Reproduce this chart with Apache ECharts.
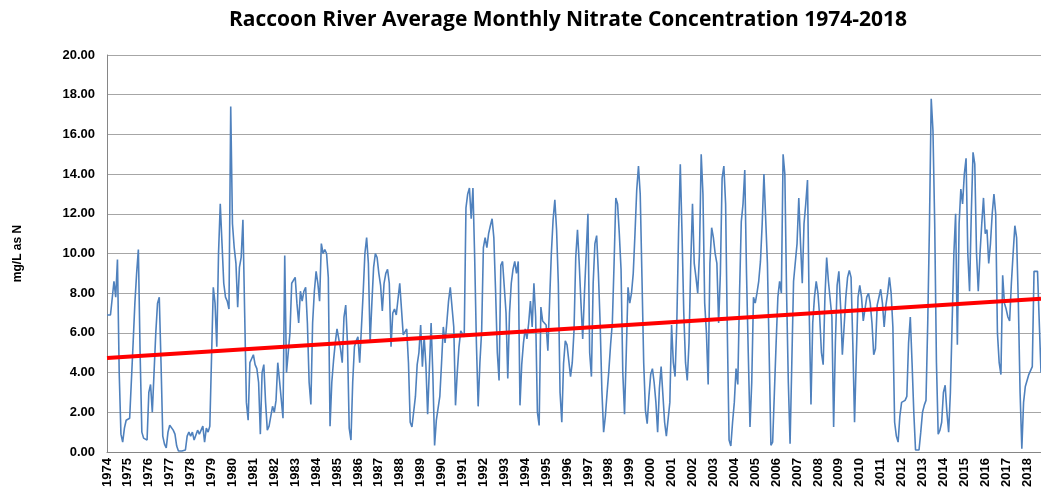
<!DOCTYPE html>
<html>
<head>
<meta charset="utf-8">
<script src="https://cdn.jsdelivr.net/npm/echarts@6/dist/echarts.min.js"></script>
<style>
  html, body { margin: 0; padding: 0; background: #fff; }
  #main { width: 1041px; height: 503px; }
</style>
</head>
<body>
<div id="main"></div>
<script>
// monthly data, Jan 1974 onwards (mg/L as N)
const startYear = 1974
const nitrate = [
  6.9, 6.9, 6.9, 6.9, 8.6, 7.8, 9.7, 4.0, 0.9, 0.5, 1.2, 1.6,      // 1974
  1.7, 1.7, 1.7, 5.5, 7.5, 9.0, 10.2, 5.0, 1.0, 0.7, 0.6, 0.6,     // 1975
  3.0, 3.4, 2.0, 4.0, 6.0, 7.5, 7.8, 4.5, 0.8, 0.4, 0.2, 1.0,      // 1976
  1.35, 1.3, 1.1, 0.9, 0.3, 0.05, 0.05, 0.05, 0.1, 0.1, 0.8, 1.0,  // 1977
  0.8, 1.0, 0.6, 0.5, 1.1, 0.9, 0.8, 1.3, 0.5, 1.2, 1.0, 1.3,      // 1978
  1.3, 8.3, 7.5, 5.3, 10.0, 12.5, 10.5, 8.5, 7.8, 7.6, 7.2, 17.4,  // 1979
  11.5, 10.3, 9.5, 7.3, 9.3, 9.8, 11.7, 7.0, 2.5, 1.6, 4.5, 4.7,   // 1980
  4.9, 4.4, 4.2, 3.5, 0.9, 4.0, 4.4, 2.5, 1.1, 1.3, 1.4, 2.3,      // 1981
  2.0, 2.6, 4.5, 3.6, 3.6, 1.7, 9.9, 4.0, 3.9, 6.0, 8.5, 8.6,      // 1982
  8.8, 7.5, 6.5, 8.1, 7.6, 8.1, 8.3, 6.5, 3.5, 2.4, 6.5, 8.1,      // 1983
  9.1, 8.5, 7.6, 10.5, 10.0, 10.2, 10.0, 8.8, 1.3, 3.5, 4.6, 5.5,  // 1984
  6.2, 6.1, 5.2, 4.5, 6.8, 7.4, 5.5, 1.2, 0.6, 3.5, 5.3, 5.6,      // 1985
  5.8, 4.5, 4.45, 8.0, 10.0, 10.8, 9.5, 5.5, 7.5, 9.3, 10.0, 9.8,  // 1986
  9.0, 8.4, 7.1, 8.5, 9.0, 9.2, 8.5, 5.3, 7.0, 7.2, 6.9, 7.0,      // 1987
  8.5, 7.2, 5.9, 6.0, 6.2, 4.5, 1.5, 1.26, 1.2, 2.8, 4.4, 5.0,     // 1988
  6.4, 4.3, 5.8, 4.4, 1.9, 2.0, 6.5, 3.9, 0.33, 1.6, 1.5, 2.8,     // 1989
  4.5, 6.3, 5.5, 6.5, 7.6, 8.3, 8.4, 6.3, 2.35, 4.0, 5.3, 6.1,     // 1990
  6.2, 5.8, 12.3, 13.0, 13.3, 11.75, 13.3, 9.8, 5.45, 2.3, 4.5, 6.1, // 1991
  10.3, 10.8, 10.3, 11.0, 11.4, 11.75, 10.8, 8.1, 5.0, 3.6, 9.4, 9.6, // 1992
  9.5, 7.0, 3.7, 7.0, 8.5, 9.2, 9.6, 9.0, 9.6, 2.35, 4.4, 5.5,     // 1993
  6.2, 5.7, 6.5, 7.6, 6.3, 8.5, 6.8, 2.0, 1.34, 7.3, 6.6, 6.6,     // 1994
  6.4, 5.1, 7.6, 10.0, 11.7, 12.7, 11.2, 8.5, 3.0, 1.5, 4.45, 5.6, // 1995
  5.4, 4.6, 3.8, 4.5, 6.1, 9.8, 11.2, 9.5, 7.5, 5.7, 8.0, 10.0,    // 1996
  12.0, 5.0, 3.8, 8.5, 10.5, 10.9, 9.0, 6.5, 3.1, 1.0, 1.8, 3.0,   // 1997
  4.1, 5.4, 6.5, 9.5, 12.8, 12.5, 11.0, 9.2, 4.0, 1.9, 5.0, 8.3,   // 1998
  7.5, 8.0, 9.0, 11.0, 13.2, 14.4, 13.0, 8.8, 4.5, 2.1, 1.43, 2.8, // 1999
  3.9, 4.2, 3.5, 2.5, 1.0, 3.2, 4.3, 4.4, 1.5, 0.8, 0.9, 2.5,      // 2000
  6.4, 4.5, 3.8, 6.5, 11.0, 14.5, 11.0, 7.0, 4.5, 3.6, 5.5, 9.5,   // 2001
  12.5, 9.5, 8.8, 8.0, 10.0, 15.0, 13.0, 7.5, 6.0, 3.4, 9.5, 11.3, // 2002
  10.8, 10.0, 9.5, 6.5, 9.0, 13.8, 14.4, 12.5, 6.0, 0.6, 0.3, 1.5, // 2003
  2.5, 4.2, 3.4, 8.0, 11.6, 12.5, 14.2, 9.0, 5.0, 1.26, 3.5, 7.8,  // 2004
  7.5, 8.0, 8.6, 9.6, 11.5, 14.0, 14.0, 9.5, 5.0, 0.34, 0.5, 3.0,  // 2005
  5.5, 7.8, 8.6, 8.0, 15.0, 14.0, 8.0, 3.5, 0.42, 4.5, 8.6, 8.7,   // 2006
  10.5, 12.8, 10.5, 8.5, 11.5, 12.5, 13.7, 7.0, 2.4, 6.5, 7.8, 8.6, // 2007
  8.0, 6.8, 5.0, 4.4, 7.8, 9.8, 8.6, 8.6, 6.8, 1.26, 5.5, 8.4,     // 2008
  9.1, 7.3, 4.9, 6.3, 7.8, 8.8, 9.15, 8.8, 5.5, 1.5, 4.8, 7.8,     // 2009
  8.4, 7.8, 6.6, 6.6, 7.8, 8.0, 7.5, 6.5, 4.9, 5.2, 7.4, 7.5,      // 2010
  8.2, 7.5, 6.3, 7.4, 8.0, 8.8, 8.0, 6.3, 1.5, 0.8, 0.5, 1.8,      // 2011
  2.5, 2.6, 2.6, 2.8, 5.5, 6.8, 4.5, 2.0, 0.1, 0.05, 0.1, 1.0,     // 2012
  2.0, 2.35, 2.6, 6.5, 11.5, 17.8, 16.2, 11.5, 4.5, 0.9, 1.1, 1.5, // 2013
  3.0, 3.36, 2.0, 1.0, 3.0, 6.5, 10.0, 12.0, 5.4, 11.5, 13.25, 12.5, // 2014
  14.0, 14.8, 10.0, 8.1, 12.0, 15.1, 14.5, 10.0, 8.1, 10.0, 11.5, 12.8, // 2015
  11.0, 11.2, 9.5, 10.5, 12.0, 13.0, 12.0, 6.0, 4.5, 3.9, 8.9, 7.5, // 2016
  7.2, 6.8, 6.6, 8.5, 10.0, 11.4, 10.8, 7.5, 3.0, 0.17, 2.5, 3.3,  // 2017
  3.4, 3.9, 3.9, 4.3, 9.1, 9.2, 9.1, 9.0, 4.0                      // 2018
]
// linear trend, start and end value
const trend = [4.73, 7.72]
const yTicks = { min: 0, max: 20, interval: 2 }

const months = nitrate.map((v, i) => {
  let y = startYear + Math.floor(i / 12)
  let m = (i % 12) + 1
  return y + '-' + (m < 10 ? '0' + m : m)
})

let chart = echarts.init(document.getElementById('main'))
let option = {
  animation: false,
  backgroundColor: '#fff',
  title: {
    text: 'Raccoon River Average Monthly Nitrate Concentration 1974-2018',
    left: 563,
    textAlign: 'center',
    top: 5,
    textStyle: {
      fontFamily: 'Open Sans',
      fontSize: 21,
      fontWeight: 'bold',
      color: '#000'
    }
  },
  grid: {
    left: 107,
    right: 0,
    top: 55,
    bottom: 51,
    containLabel: false
  },
  xAxis: {
    type: 'category',
    data: months,
    boundaryGap: false,
    axisLine: { lineStyle: { color: '#868686', width: 1 } },
    axisTick: { show: false },
    axisLabel: {
      interval: 11,
      rotate: 90,
      margin: 6,
      color: '#000',
      fontFamily: 'Liberation Sans',
      fontSize: 13,
      fontWeight: 'bold',
      formatter: function (v) { return v.slice(0, 4) }
    },
    splitLine: { show: false }
  },
  yAxis: {
    type: 'value',
    min: yTicks.min,
    max: yTicks.max,
    interval: yTicks.interval,
    name: 'mg/L as N',
    nameLocation: 'middle',
    nameGap: 83,
    nameTextStyle: {
      color: '#000',
      fontFamily: 'Liberation Sans',
      fontSize: 12,
      fontWeight: 'bold'
    },
    axisLine: { show: true, lineStyle: { color: '#868686', width: 1 } },
    axisTick: { show: false },
    axisLabel: {
      margin: 12,
      color: '#000',
      fontFamily: 'Liberation Sans',
      fontSize: 13,
      fontWeight: 'bold',
      formatter: function (v) { return v.toFixed(2) }
    },
    splitLine: { lineStyle: { color: '#a6a6a6', width: 1 } }
  },
  series: [
    {
      name: 'Nitrate',
      type: 'line',
      data: nitrate,
      showSymbol: false,
      lineStyle: { color: '#4f81bd', width: 1.6 },
      z: 2
    },
    {
      name: 'Trend',
      type: 'line',
      data: [[0, trend[0]], [nitrate.length - 1, trend[1]]],
      showSymbol: false,
      lineStyle: { color: '#ff0000', width: 4 },
      z: 3
    }
  ]
}
chart.setOption(option)
</script>
</body>
</html>
